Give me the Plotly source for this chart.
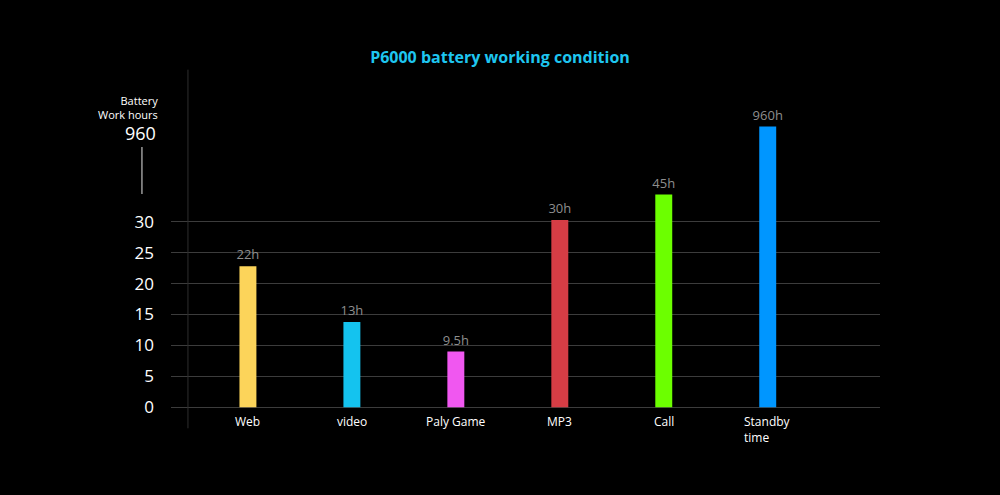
import plotly.graph_objects as go

# donnees
categories = ["Web", "video", "Paly Game", "MP3", "Call", "Standby<br>time"]
hours = [22, 13, 9.5, 30, 45, 960]
# hauteur affichee sur l'axe coupe (0-30 lineaire, puis saut jusqu'a 960)
drawn_height = [22.8, 13.8, 9.0, 30.3, 34.4, 45.4]
colors = ["#fcd45a", "#14c3ef", "#f057f0", "#d63d45", "#6cff00", "#0096ff"]
y_ticks = [0, 5, 10, 15, 20, 25, 30]
top_tick_label = "960"
top_tick_pos = 44.4

labels = [f"{h:g}h" for h in hours]
x_pos = list(range(len(categories)))

fig = go.Figure()
fig.add_trace(go.Bar(
    x=x_pos,
    y=drawn_height,
    width=0.163,
    marker=dict(color=colors, line_width=0),
    text=labels,
    textposition="outside",
    constraintext="none",
    textfont=dict(color="#8e8e8e", size=13, family="Open Sans"),
    cliponaxis=False,
    hoverinfo="skip",
))

# noms des categories sous la ligne 0
for i, cat in enumerate(categories):
    fig.add_annotation(
        x=i, y=0, xref="x", yref="y", text=cat, showarrow=False,
        xanchor="center", yanchor="top", yshift=-4, align="left",
        font=dict(color="white", size=12, family="Open Sans"),
    )

# axe vertical gris
fig.add_shape(type="line", xref="x", yref="y", x0=-0.577, x1=-0.577,
              y0=-3.4, y1=54.6, line=dict(color="#2e2e2e", width=1))

# repere 960 + petit trait
fig.add_annotation(
    xref="paper", yref="y", x=-0.018, y=top_tick_pos, text=top_tick_label,
    showarrow=False, xanchor="right", yanchor="middle",
    font=dict(color="white", size=18, family="Open Sans"),
)
fig.add_shape(type="line", xref="paper", yref="paper",
              x0=-0.041, x1=-0.041, y0=(495 - 63 - 147) / 371, y1=(495 - 63 - 194) / 371,
              line=dict(color="#9a9a9a", width=1.5))
fig.add_annotation(
    xref="paper", yref="paper", x=-0.016, y=(495 - 63 - 107) / 371,
    text="Battery<br>Work hours", showarrow=False, xanchor="right",
    yanchor="middle", align="right",
    font=dict(color="white", size=11, family="Open Sans"),
)

fig.update_layout(
    width=1000, height=495,
    paper_bgcolor="black", plot_bgcolor="black",
    margin=dict(l=171, r=120, t=61, b=63),
    showlegend=False,
    title=dict(
        text="<b>P6000 battery working condition</b>",
        xref="container", yref="container", x=0.5, y=1 - 57 / 495,
        xanchor="center", yanchor="middle",
        font=dict(color="#1ec6f0", size=16, family="Open Sans"),
    ),
    xaxis=dict(range=[-0.74, 6.08], showticklabels=False, showgrid=False,
               zeroline=False, showline=False, ticks=""),
    yaxis=dict(range=[-4, 56], tickvals=y_ticks, ticktext=[str(v) for v in y_ticks],
               showgrid=True, gridcolor="#3c3c3c", gridwidth=1, zeroline=False,
               showline=False, ticks="", ticklabelstandoff=16,
               tickfont=dict(color="white", size=17, family="Open Sans")),
)

fig.write_html(
    "out.html",
    config={"displayModeBar": False},
    post_script="document.body.style.margin='0';document.body.style.background='black';",
)
